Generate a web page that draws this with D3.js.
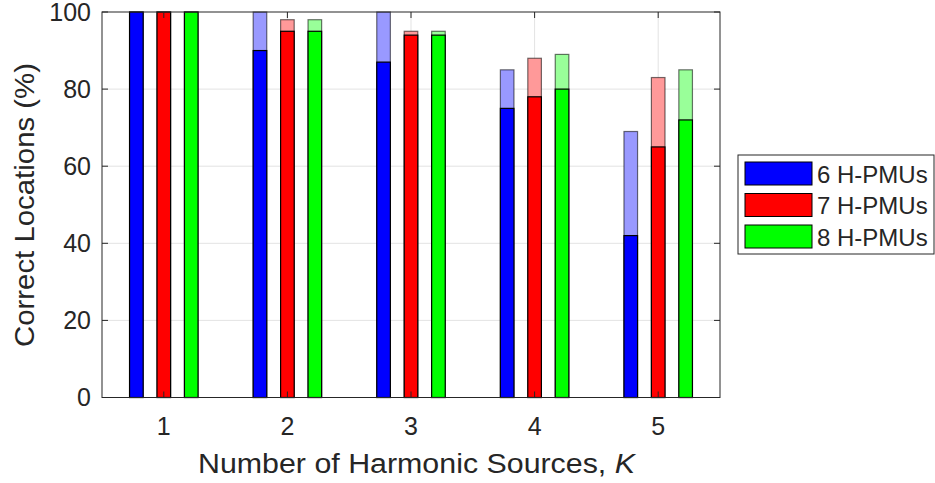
<!DOCTYPE html>
<meta charset="utf-8">
<head>
<style>
body { margin: 0; background: #fff; }
svg { display: block; font-family: "Liberation Sans", Arial, Helvetica, sans-serif; }
.grid line { stroke: #e3e3e3; stroke-width: 1; }
.ax { stroke: #262626; stroke-width: 1; fill: none; }
text { fill: #262626; }
</style>
</head>
<body>
<script src="https://d3js.org/d3.v7.min.js"></script>
<div id="chart"></div>
<script>
  // number of harmonic sources K
  var categories = [1, 2, 3, 4, 5];
  var seriesNames = ["6 H-PMUs", "7 H-PMUs", "8 H-PMUs"];
  var darkColors = ["#0000ff", "#ff0000", "#00ff00"];
  var lightColors = ["#9999ff", "#ff9999", "#99ff99"];
  // exact locations (solid) and total incl. light part
  var exact6 = [100, 90, 87, 75, 42];
  var total6 = [100, 100, 100, 85, 69];
  var exact7 = [100, 95, 94, 78, 65];
  var total7 = [100, 98, 95, 88, 83];
  var exact8 = [100, 95, 94, 80, 72];
  var total8 = [100, 98, 95, 89, 85];
  var yTicks = [0, 20, 40, 60, 80, 100];

  var exact = [exact6, exact7, exact8];
  var total = [total6, total7, total8];

  var width = 935, height = 483;
  var pL = 102, pR = 720, pT = 12, pB = 397.5;

  var svg = d3.select('#chart').append('svg')
      .attr('width', width)
      .attr('height', height);

  var x = d3.scaleLinear().domain([0.5, 5.5]).range([pL, pR]);
  var y = d3.scaleLinear().domain([0, 100]).range([pB, pT]);
  var offset = d3.scaleLinear().domain([0, 2]).range([-0.222, 0.222]);
  var barW = 0.11;

  // grid
  var grid = svg.append('g').attr('class', 'grid');
  grid.selectAll('.gy').data(yTicks.slice(1, -1)).enter().append('line')
      .attr('x1', pL).attr('x2', pR)
      .attr('y1', d => y(d)).attr('y2', d => y(d));
  grid.selectAll('.gx').data(categories).enter().append('line')
      .attr('y1', pT).attr('y2', pB)
      .attr('x1', d => x(d)).attr('x2', d => x(d));

  var rows = [];
  seriesNames.forEach(function (s, i) {
    categories.forEach(function (c, j) {
      rows.push({ s: i, c: c, exact: exact[i][j], total: total[i][j] });
    });
  });

  function bx(d) { return x(d.c + offset(d.s) - barW / 2); }
  var bw = x(barW) - x(0);

  // light (total) bars
  svg.append('g').selectAll('rect').data(rows).enter().append('rect')
      .attr('x', bx).attr('width', bw)
      .attr('y', d => y(d.total)).attr('height', d => y(0) - y(d.total))
      .attr('fill', d => lightColors[d.s])
      .attr('stroke', '#000').attr('stroke-opacity', 0.55).attr('stroke-width', 1.2);

  // dark (exact) bars
  svg.append('g').selectAll('rect').data(rows).enter().append('rect')
      .attr('x', bx).attr('width', bw)
      .attr('y', d => y(d.exact)).attr('height', d => y(0) - y(d.exact))
      .attr('fill', d => darkColors[d.s])
      .attr('stroke', '#000').attr('stroke-width', 1.2);

  // axes box + ticks
  var tl = 6;
  svg.append('rect').attr('class', 'ax')
      .attr('x', pL).attr('y', pT).attr('width', pR - pL).attr('height', pB - pT);
  var ticks = svg.append('g').attr('class', 'ax');
  yTicks.forEach(function (t) {
    ticks.append('line').attr('x1', pL).attr('x2', pL + tl).attr('y1', y(t)).attr('y2', y(t));
    ticks.append('line').attr('x1', pR).attr('x2', pR - tl).attr('y1', y(t)).attr('y2', y(t));
  });
  categories.forEach(function (c) {
    ticks.append('line').attr('x1', x(c)).attr('x2', x(c)).attr('y1', pB).attr('y2', pB - tl);
    ticks.append('line').attr('x1', x(c)).attr('x2', x(c)).attr('y1', pT).attr('y2', pT + tl);
  });

  svg.append('g').selectAll('text').data(yTicks).enter().append('text')
      .attr('x', pL - 11).attr('y', d => y(d)).attr('dy', '0.35em')
      .attr('text-anchor', 'end').style('font-size', '25px')
      .text(d => d);
  svg.append('g').selectAll('text').data(categories).enter().append('text')
      .attr('x', d => x(d)).attr('y', 435)
      .attr('text-anchor', 'middle').style('font-size', '25px')
      .text(d => d);

  // axis labels
  var xl = svg.append('text').attr('x', 416.5).attr('y', 473)
      .attr('text-anchor', 'middle').style('font-size', '27px')
      .attr('textLength', 437).attr('lengthAdjust', 'spacingAndGlyphs');
  xl.append('tspan').text('Number of Harmonic Sources, ');
  xl.append('tspan').style('font-style', 'italic').text('K');

  svg.append('text')
      .attr('transform', 'translate(34,205) rotate(-90)')
      .attr('text-anchor', 'middle').style('font-size', '28px')
      .attr('textLength', 284).attr('lengthAdjust', 'spacingAndGlyphs')
      .text('Correct Locations (%)');

  // legend
  var lg = svg.append('g');
  lg.append('rect').attr('x', 738).attr('y', 155).attr('width', 196).attr('height', 99)
      .attr('fill', '#fff').attr('stroke', '#262626').attr('stroke-width', 1);
  seriesNames.forEach(function (s, i) {
    var ry = 162 + i * 31.5;
    lg.append('rect').attr('x', 745).attr('y', ry).attr('width', 67).attr('height', 23)
        .attr('fill', darkColors[i]).attr('stroke', '#000').attr('stroke-width', 1);
    lg.append('text').attr('x', 817).attr('y', ry + 20.5)
        .style('font-size', '24px').text(s);
  });
</script>
</body>
